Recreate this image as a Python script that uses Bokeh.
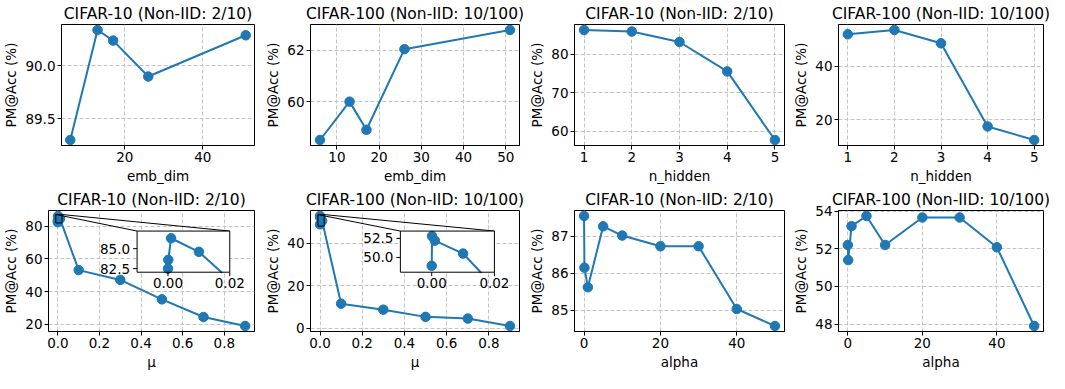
import math
from bokeh.plotting import figure
from bokeh.layouts import column, row
from bokeh.models import Range1d, FixedTicker, PrintfTickFormatter
from bokeh.core.properties import value
from bokeh.embed import file_html
from bokeh.resources import INLINE

# ---------------- data ----------------
titles = ["CIFAR-10 (Non-IID: 2/10)", "CIFAR-100 (Non-IID: 10/100)",
          "CIFAR-10 (Non-IID: 2/10)", "CIFAR-100 (Non-IID: 10/100)"]

emb_dim = [6, 13, 17, 26, 51]
emb_c10 = [89.30, 90.34, 90.24, 89.90, 90.29]
emb_c100 = [58.50, 60.00, 58.90, 62.05, 62.80]

n_hidden = [1, 2, 3, 4, 5]
nh_c10 = [86.2, 85.8, 83.1, 75.5, 57.8]
nh_c100 = [52.1, 53.7, 48.7, 17.4, 12.3]

mu = [0, 0.0001, 0.001, 0.01, 0.1, 0.3, 0.5, 0.7, 0.9]
mu_c10 = [82.5, 83.6, 86.3, 84.6, 53.2, 47.2, 35.3, 24.5, 19.0]
mu_c100 = [48.9, 52.8, 52.2, 50.5, 11.5, 8.7, 5.3, 4.5, 1.0]

alpha = [0, 0.1, 1, 5, 10, 20, 30, 40, 50]
al_c10 = [87.55, 86.15, 85.62, 87.27, 87.02, 86.73, 86.73, 85.03, 84.57]
al_c100 = [52.2, 51.4, 53.2, 53.74, 52.2, 53.66, 53.66, 52.08, 47.9]

# tick values
xt_emb_c10 = [20, 40]
xt_emb_c100 = [10, 20, 30, 40, 50]
xt_nh = [1, 2, 3, 4, 5]
xt_mu = [0.0, 0.2, 0.4, 0.6, 0.8]
xt_alpha = [0, 20, 40]
yt = [[89.5, 90.0], [60, 62], [60, 70, 80], [20, 40],
      [20, 40, 60, 80], [0, 20, 40], [85, 86, 87], [48, 50, 52, 54]]

# inset settings (zoom window) and ticks
inset_xr = (-0.01, 0.02)
inset_yr_c10 = (82.05, 87.2)
inset_yr_c100 = (48.06, 53.46)
inset_xt = [0.0, 0.02]
inset_yt_c10 = [82.5, 85.0]
inset_yt_c100 = [50.0, 52.5]

FONT = "DejaVu Sans"
BLUE = "#1f77b4"
GRID = "#c4c4c4"
TICK_FS = "13.5px"
TITLE_FS = "15.5px"
MS = 9.5
LW = 2


def padded(vals):
    lo, hi = min(vals), max(vals)
    s = hi - lo
    return Range1d(lo - 0.05 * s, hi + 0.05 * s)


def make(title, xlabel, xs, ys, xticks, yticks, xfmt, yfmt, width, left, right):
    p = figure(width=width, height=186, title=title,
               x_range=padded(xs), y_range=padded(ys),
               output_backend="svg", toolbar_location=None,
               min_border_left=left, min_border_right=right,
               min_border_top=22, min_border_bottom=40,
               x_axis_label=xlabel, y_axis_label="PM@Acc (%)")
    p.background_fill_color = "white"
    p.border_fill_color = "white"
    p.outline_line_color = "black"
    p.outline_line_width = 1
    p.outline_line_alpha = 1
    p.title.align = "center"
    p.title.text_font = FONT
    p.title.text_font_size = TITLE_FS
    p.title.text_font_style = "normal"
    p.title.text_color = "black"
    p.title.standoff = 4
    p.xaxis.ticker = FixedTicker(ticks=xticks)
    p.yaxis.ticker = FixedTicker(ticks=yticks)
    p.xaxis.formatter = PrintfTickFormatter(format=xfmt)
    p.yaxis.formatter = PrintfTickFormatter(format=yfmt)
    p.xgrid.ticker = FixedTicker(ticks=xticks)
    p.ygrid.ticker = FixedTicker(ticks=yticks)
    for ax in (p.xaxis[0], p.yaxis[0]):
        ax.major_tick_in = 0
        ax.major_tick_out = 4
        ax.minor_tick_line_color = None
        ax.major_tick_line_color = "black"
        ax.axis_line_color = "black"
        ax.major_label_text_font = FONT
        ax.major_label_text_font_size = TICK_FS
        ax.major_label_text_color = "black"
        ax.axis_label_text_font = FONT
        ax.axis_label_text_font_size = TICK_FS
        ax.axis_label_text_font_style = "normal"
        ax.axis_label_text_color = "black"
        ax.major_label_standoff = 2
        ax.axis_label_standoff = 3
    for g in (p.xgrid[0], p.ygrid[0]):
        g.grid_line_color = GRID
        g.grid_line_dash = "4 2"
        g.grid_line_width = 1
    p.line(xs, ys, line_color=BLUE, line_width=LW)
    p.scatter(xs, ys, size=MS, fill_color=BLUE, line_color=BLUE)
    return p


def clip_segment(x0, y0, x1, y1, xmin, xmax, ymin, ymax):
    dx, dy = x1 - x0, y1 - y0
    t0, t1 = 0.0, 1.0
    for pp, qq in ((-dx, x0 - xmin), (dx, xmax - x0), (-dy, y0 - ymin), (dy, ymax - y0)):
        if pp == 0:
            if qq < 0:
                return None
        else:
            r = qq / pp
            if pp < 0:
                if r > t1:
                    return None
                t0 = max(t0, r)
            else:
                if r < t0:
                    return None
                t1 = min(t1, r)
    return (x0 + t0 * dx, y0 + t0 * dy, x0 + t1 * dx, y0 + t1 * dy)


def add_inset(p, xs, ys, xr, yr, yticks, xticks, frac=(0.43, 0.49, 0.45, 0.34)):
    mx0, mx1 = p.x_range.start, p.x_range.end
    my0, my1 = p.y_range.start, p.y_range.end
    fx, fy, fw, fh = frac
    tx0 = mx0 + fx * (mx1 - mx0)
    tx1 = mx0 + (fx + fw) * (mx1 - mx0)
    ty0 = my0 + fy * (my1 - my0)
    ty1 = my0 + (fy + fh) * (my1 - my0)
    # zoom indicator and connectors
    p.quad(left=[xr[0]], right=[xr[1]], bottom=[yr[0]], top=[yr[1]],
           fill_color=None, line_color="black", line_width=1)
    p.segment(x0=[xr[0], xr[1]], y0=[yr[1], yr[1]], x1=[tx0, tx1], y1=[ty1, ty1],
              line_color="black", line_width=1)
    sub = p.subplot(x_source=Range1d(xr[0], xr[1]), y_source=Range1d(yr[0], yr[1]),
                    x_target=Range1d(tx0, tx1), y_target=Range1d(ty0, ty1))
    sub.quad(left=[xr[0]], right=[xr[1]], bottom=[yr[0]], top=[yr[1]],
             fill_color="white", line_color=None)
    segs = []
    for i in range(len(xs) - 1):
        c = clip_segment(xs[i], ys[i], xs[i + 1], ys[i + 1], xr[0], xr[1], yr[0], yr[1])
        if c is not None:
            segs.append(c)
    sub.segment(x0=[s[0] for s in segs], y0=[s[1] for s in segs],
                x1=[s[2] for s in segs], y1=[s[3] for s in segs],
                line_color=BLUE, line_width=LW, line_cap="round")
    px = [x for x, y in zip(xs, ys) if xr[0] <= x <= xr[1] and yr[0] <= y <= yr[1]]
    py = [y for x, y in zip(xs, ys) if xr[0] <= x <= xr[1] and yr[0] <= y <= yr[1]]
    sub.scatter(px, py, size=MS, fill_color=BLUE, line_color=BLUE)
    sub.quad(left=[xr[0]], right=[xr[1]], bottom=[yr[0]], top=[yr[1]],
             fill_color=None, line_color="black", line_width=1)
    sub.ray(x=[xr[0]] * len(yticks), y=yticks, length=4, length_units="screen",
            angle=math.pi, line_color="black", line_width=1)
    sub.ray(x=xticks, y=[yr[0]] * len(xticks), length=4, length_units="screen",
            angle=-math.pi / 2, line_color="black", line_width=1)
    sub.text(x=[xr[0]] * len(yticks), y=yticks, text=["%.1f" % v for v in yticks],
             x_offset=-7, text_align="right", text_baseline="middle",
             text_font=value(FONT), text_font_size=TICK_FS, text_color="black")
    sub.text(x=xticks, y=[yr[0]] * len(xticks), text=["%.2f" % v for v in xticks],
             y_offset=6, text_align="center", text_baseline="top",
             text_font=value(FONT), text_font_size=TICK_FS, text_color="black")


widths = [262, 264, 264, 259]
rights = [8, 7, 6, 6]

p1 = make(titles[0], "emb_dim", emb_dim, emb_c10, xt_emb_c10, yt[0], "%d", "%.1f", widths[0], 56, rights[0])
p2 = make(titles[1], "emb_dim", emb_dim, emb_c100, xt_emb_c100, yt[1], "%d", "%d", widths[1], 43, rights[1])
p3 = make(titles[2], "n_hidden", n_hidden, nh_c10, xt_nh, yt[2], "%d", "%d", widths[2], 44, rights[2])
p4 = make(titles[3], "n_hidden", n_hidden, nh_c100, xt_nh, yt[3], "%d", "%d", widths[3], 44, rights[3])
p5 = make(titles[0], "μ", mu, mu_c10, xt_mu, yt[4], "%.1f", "%d", widths[0], 44, rights[0])
p6 = make(titles[1], "μ", mu, mu_c100, xt_mu, yt[5], "%.1f", "%d", widths[1], 42, rights[1])
p7 = make(titles[2], "alpha", alpha, al_c10, xt_alpha, yt[6], "%d", "%d", widths[2], 45, rights[2])
p8 = make(titles[3], "alpha", alpha, al_c100, xt_alpha, yt[7], "%d", "%d", widths[3], 43, rights[3])

add_inset(p5, mu, mu_c10, inset_xr, inset_yr_c10, inset_yt_c10, inset_xt)
add_inset(p6, mu, mu_c100, inset_xr, inset_yr_c100, inset_yt_c100, inset_xt)

layout = column(row(p1, p2, p3, p4), row(p5, p6, p7, p8))

open("out.html", "w").write(file_html(layout, INLINE))
